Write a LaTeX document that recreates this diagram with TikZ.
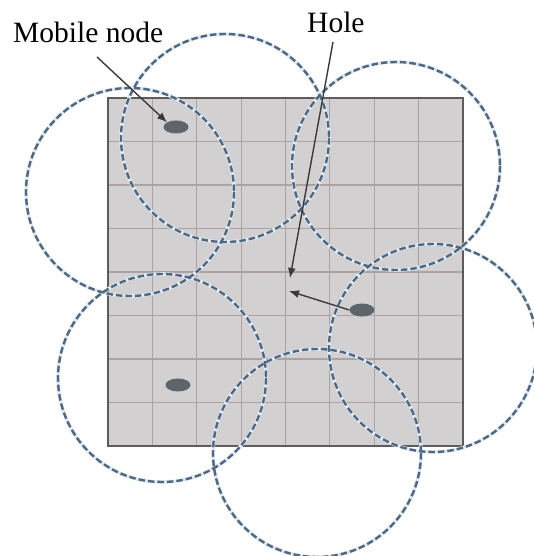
\documentclass[tikz,border=0pt]{standalone}
\usepackage{fontspec}
\setmainfont{Liberation Serif}
\usetikzlibrary{arrows.meta,shapes.geometric}
\definecolor{areafill}{HTML}{D2D0D0}
\definecolor{gridcol}{HTML}{ABA3A1}
\definecolor{bordercol}{HTML}{5C5C5C}
\definecolor{rangecol}{HTML}{51677F}
\definecolor{halocol}{HTML}{E0EAF3}
\definecolor{nodecol}{HTML}{5E646C}
\definecolor{arrowcol}{HTML}{3A3A3A}
\tikzset{
  coverage/.style={draw=rangecol, line width=2.4pt, dash pattern=on 6.5pt off 3pt},
  coveragehalo/.style={draw=halocol, line width=3.6pt},
  mobile/.style={ellipse, fill=nodecol, inner sep=0pt, minimum width=25pt, minimum height=13pt},
  lbl/.style={font=\fontsize{29.5}{31}\selectfont, inner sep=0pt},
  pointer/.style={draw=arrowcol, line width=1.4pt, -{Latex[length=10pt,width=8pt]}}
}
\begin{document}
\begin{tikzpicture}[x=1pt,y=-1pt]
\useasboundingbox (0,0) rectangle (534,556);
% area
\fill[areafill] (108,98) rectangle (463,446);
\foreach \i in {1,...,7}{
  \draw[gridcol, line width=1.2pt] ({108+\i*44.375},98) -- ({108+\i*44.375},446);
  \draw[gridcol, line width=1.2pt] (108,{98+\i*43.5}) -- (463,{98+\i*43.5});
}
\draw[bordercol, line width=2pt] (108,98) rectangle (463,446);
% coverage circles
\foreach \cx/\cy in {130/192, 225/138, 396/166, 433/348, 162/378, 317/453}{
  \draw[coveragehalo] (\cx,\cy) circle[radius=104];
}
\foreach \cx/\cy in {130/192, 225/138, 396/166, 433/348, 162/378, 317/453}{
  \draw[coverage] (\cx,\cy) circle[radius=104];
}
% mobile nodes
\node[mobile] (n1) at (176,127) {};
\node[mobile] (n2) at (362,310) {};
\node[mobile] (n3) at (178,385) {};
% labels
\node[lbl, anchor=base west] (lmob) at (13,43) {Mobile node};
\node[lbl, anchor=base west] (lhole) at (307,33) {Hole};
\coordinate (hole1) at (290,278);
\coordinate (hole2) at (289,291);
\coordinate (mobstart) at (97,57);
\coordinate (holestart) at (333,42);
% arrows
\draw[pointer] (mobstart) -- (n1.north west);
\draw[pointer] (holestart) -- (hole1);
\draw[pointer] (n2.west) -- (hole2);
\end{tikzpicture}
\end{document}
